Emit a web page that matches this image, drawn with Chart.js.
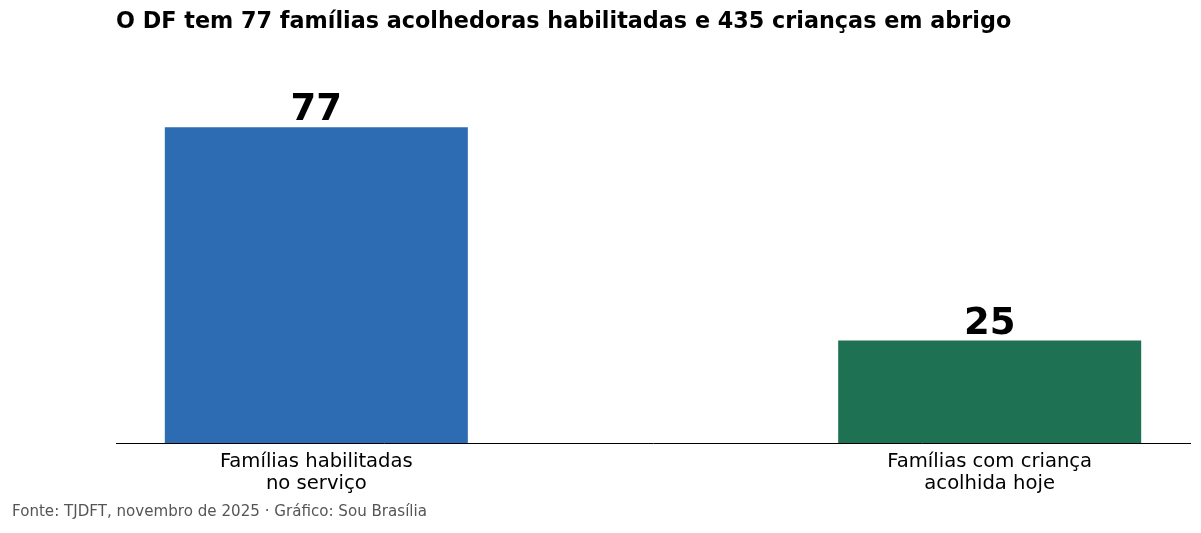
<!DOCTYPE html>
<html>
<head>
<meta charset="utf-8">
<script src="https://cdn.jsdelivr.net/npm/chart.js@4.4.1/dist/chart.umd.min.js"></script>
<style>
  html, body { margin: 0; padding: 0; background: #fff; }
  #wrap { width: 1201px; height: 533px; }
</style>
</head>
<body>
<div id="wrap"><canvas id="chart"></canvas></div>
<script>
const title = 'O DF tem 77 famílias acolhedoras habilitadas e 435 crianças em abrigo';
const source = 'Fonte: TJDFT, novembro de 2025 · Gráfico: Sou Brasília';
const categories = [
    ['Famílias habilitadas', 'no serviço'],
    ['Famílias com criança', 'acolhida hoje']
];
const positions = [0, 1];
const values = [77, 25];
const barColors = ['#2d6bb3', '#1f7153'];

const FONT = '"DejaVu Sans", sans-serif';

// title, source line and the numbers on top of the bars
const textPlugin = {
    id: 'texts',
    afterDatasetsDraw(chart) {
        const ctx = chart.ctx;
        ctx.save();
        ctx.fillStyle = '#000';
        ctx.textAlign = 'left';
        ctx.textBaseline = 'middle';
        ctx.font = 'bold 22.3px ' + FONT;
        ctx.fillText(title, 116, 22);

        ctx.fillStyle = '#555';
        ctx.font = '15.1px ' + FONT;
        ctx.fillText(source, 12, 512);

        const meta = chart.getDatasetMeta(0);
        ctx.fillStyle = '#000';
        ctx.textAlign = 'center';
        ctx.textBaseline = 'alphabetic';
        ctx.font = 'bold 37px ' + FONT;
        meta.data.forEach((bar, i) => {
            ctx.fillText(String(values[i]), bar.x, bar.y - 7);
        });
        ctx.restore();
    }
};

const data = {
    datasets: [{
        data: positions.map((p, i) => ({ x: p, y: values[i] })),
        backgroundColor: barColors,
        borderWidth: 0,
        categoryPercentage: 1,
        barPercentage: 0.45
    }]
};

const config = {
    type: 'bar',
    data: data,
    options: {
        responsive: true,
        maintainAspectRatio: false,
        animation: false,
        layout: {
            padding: { left: 116, right: 11, top: 80, bottom: 0 }
        },
        plugins: {
            legend: { display: false },
            tooltip: { enabled: false }
        },
        scales: {
            x: {
                type: 'linear',
                offset: false,
                min: -0.2975,
                max: 1.2975,
                afterBuildTicks: scale => {
                    scale.ticks = positions.map(p => ({ value: p }));
                },
                afterFit: scale => { scale.height = 90; },
                grid: { display: false, drawTicks: false },
                border: { display: true, color: '#000', width: 1 },
                ticks: {
                    autoSkip: false,
                    maxRotation: 0,
                    padding: 7,
                    color: '#000',
                    font: { family: FONT, size: 19.6, lineHeight: 1.17 },
                    callback: v => categories[positions.indexOf(v)]
                }
            },
            y: {
                display: false,
                min: 0,
                max: 88.55
            }
        }
    },
    plugins: [textPlugin]
};

new Chart(document.getElementById('chart'), config);
</script>
</body>
</html>
